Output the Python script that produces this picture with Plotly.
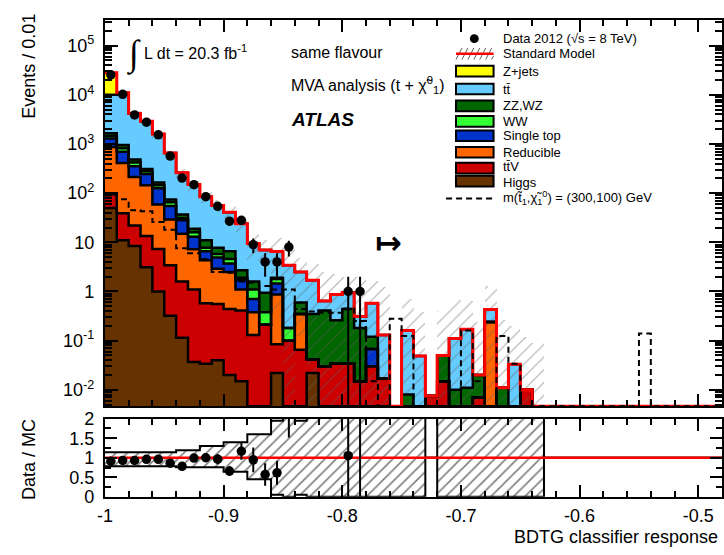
import numpy as np
import plotly.graph_objects as go

# ---------------- binning ----------------
n_bins = 52
x_min = -1.0
bin_width = 0.01
x_max = x_min + n_bins * bin_width


def pad(v):
    return np.array(list(v) + [0.0] * (n_bins - len(v)), dtype=float)


# ---------------- background components (events / bin) ----------------
higgs = pad([50, 11, 8.4, 3.1, 1.0, 0.32, 0.115, 0.037, 0.034, 0.04, 0.02, 0.015, 0, 0, 0.022, 0, 0, 0.022])
ttv = pad([45, 28, 13.6, 10.4, 6.3, 3.08, 1.485, 1.063, 0.546, 0.52, 0.42, 0.395, 0.13, 0.21, 0.063, 0.1,
           0.065, 0.02, 0.03, 0.034, 0.034, 0.015, 0.03, 0.017, 0, 0, 0, 0.0075, 0.015, 0, 0, 0.007, 0, 0, 0, 0.01])
reducible = pad([775, 371, 191, 131.5, 51.7, 25.6, 13.4, 6.1, 3.72, 2.34, 2.06, 0.69, 0.25, 0, 0.785, 0, 0.285,
                 0, 0, 0, 0, 0, 0, 0, 0, 0, 0, 0, 0, 0, 0, 0, 0.24])
single_top = pad([430, 290, 142, 100, 67, 26, 13, 5.8, 2.3, 2.0, 1.2, 0.6, 0.32, 0, 0.58, 0, 0, 0, 0, 0, 0, 0, 0.038])
ww = pad([150, 120, 65, 35, 19, 10, 3, 3, 1.2, 0.9, 0.9, 0.2, 0.4, 0.17, 0.35, 0.08])
zz_wz = pad([200, 130, 65, 30, 20, 9, 6, 3, 3.2, 2.0, 2.0, 0.8, 0.5, 0.56, 0.1, 0, 0.25, 0.308, 0.38, 0.226,
             0.406, 0.165, 0.052, 0, 0, 0.008, 0, 0, 0.035, 0.01, 0.011, 0.013, 0, 0.011])
ttbar = pad([8350, 10050, 3715, 2590, 1435, 586, 223, 131, 74, 48.2, 34.4, 21.3, 7.9, 6.06, 4.6, 3.22, 1.9, 1.35,
             0.23, 0.61, 0.51, 0.13, 0.46, 0.113, 0, 0.152, 0.049, 0, 0, 0.1, 0.159, 0, 0.19, 0, 0.033, 0, 0.001])
zjets = pad([18000])

# data 2012
data_counts = pad([25500, 10230, 3906, 2784, 1536, 568, 203, 149, 85, 54, 27, 28, 9, 4, 4, 8, 0, 0, 0, 0, 1, 1])

# signal m(stop, LSP) = (300, 100) GeV
signal = pad([90, 75, 45, 43, 26, 18, 7.6, 6, 4.6, 2.5, 2.4, 1.6, 1.5, 1.3, 1.1, 1.1, 0.44, 0.39, 0.37, 0.37,
              0.45, 0.25, 0.015, 0, 0.28, 0.125, 0, 0, 0, 0, 0.16, 0.015, 0, 0.125, 0.034,
              0, 0, 0, 0, 0, 0, 0, 0, 0, 0, 0.14])

# relative MC uncertainty band (lower / upper, as fraction of SM total)
mc_err_lo_rel = np.array([0.78] * 6 + [0.76] * 4 + [0.64] * 2 + [0.45] * 2 + [0.05, 0.0, 0.05] + [0.0] * 10 +
                         [1.0] + [0.0] * 9 + [1.0] * 15)
mc_err_hi_rel = np.array([1.14] * 6 + [1.19] * 2 + [1.30] * 2 + [1.40] * 2 + [1.60] * 2 +
                         [1.95, 2.6, 1.95, 2.2, 3.9, 2.6, 2.1, 6.5, 2.9, 9.6, 10, 4.4, 7.8, 1.0,
                          8, 6.1, 3.8, 12, 3.0, 24, 6, 12, 90] + [1.0] * 15)

# axis ticks
x_major = [-1.0, -0.9, -0.8, -0.7, -0.6, -0.5]
x_major_text = ["-1", "-0.9", "-0.8", "-0.7", "-0.6", "-0.5"]
y_major = [1e-2, 1e-1, 1, 10, 1e2, 1e3, 1e4, 1e5]
y_major_text = ["10<sup>-2</sup>", "10<sup>-1</sup>", "1", "10", "10<sup>2</sup>", "10<sup>3</sup>",
                "10<sup>4</sup>", "10<sup>5</sup>"]
r_major = [0, 0.5, 1, 1.5, 2]
r_major_text = ["0", "0.5", "1", "1.5", "2"]

# ---------------- styling ----------------
W, H = 724, 555
FONT = "Liberation Sans, Arial, Helvetica, sans-serif"
ylog_min, ylog_max = -2.333, 5.53
y_floor = 10 ** ylog_min


def px(x):
    return x / W


def py(y):
    return 1 - y / H


labels = ["Higgs", "tt\u0304V", "Reducible", "Single top", "WW", "ZZ,WZ", "tt\u0304", "Z+jets"]
colors = ["#663300", "#cc0000", "#ff6600", "#0033cc", "#33ff33", "#006600", "#66ccff", "#ffff00"]
stack = np.vstack([higgs, ttv, reducible, single_top, ww, zz_wz, ttbar, zjets])
cum = np.cumsum(stack, axis=0)
total = cum[-1]

edges = x_min + bin_width * np.arange(n_bins + 1)
centers = edges[:-1] + bin_width / 2


def step(vals, floor=None):
    v = np.array(vals, dtype=float)
    if floor is not None:
        v = np.maximum(v, floor)
    return edges, np.append(v, v[-1])


fig = go.Figure()

# stacked fills (cumulative, drawn from top level down)
for i in reversed(range(len(labels))):
    fig.add_trace(go.Bar(x=centers, y=cum[i], width=bin_width, name=labels[i],
                         marker=dict(color=colors[i], line=dict(width=0)),
                         xaxis="x", yaxis="y", hoverinfo="skip"))

# MC uncertainty hatched band
band_lo = total * mc_err_lo_rel
band_hi = total * mc_err_hi_rel
fig.add_trace(go.Bar(x=centers, y=band_hi - band_lo, base=band_lo, width=bin_width,
                     marker=dict(color="rgba(0,0,0,0)", line=dict(width=0),
                                 pattern=dict(shape="/", fgcolor="#606060", bgcolor="rgba(0,0,0,0)",
                                              size=9, solidity=0.13)),
                     xaxis="x", yaxis="y", hoverinfo="skip"))

# ratio band
fig.add_trace(go.Bar(x=centers, y=mc_err_hi_rel - mc_err_lo_rel, base=mc_err_lo_rel, width=bin_width,
                     marker=dict(color="rgba(0,0,0,0)", line=dict(width=0),
                                 pattern=dict(shape="/", fgcolor="black", bgcolor="rgba(0,0,0,0)",
                                              size=8, solidity=0.2)),
                     xaxis="x2", yaxis="y2", hoverinfo="skip"))

# black outlines of the stack levels
for i in reversed(range(len(labels) - 1)):
    sx, sy = step(cum[i], y_floor)
    fig.add_trace(go.Scatter(x=sx, y=sy, mode="lines", line=dict(color="black", width=2.5, shape="hv"),
                             xaxis="x", yaxis="y", hoverinfo="skip"))

# SM total in red
sx, sy = step(total, y_floor)
fig.add_trace(go.Scatter(x=sx, y=sy, mode="lines", line=dict(color="#ff0000", width=3, shape="hv"),
                         xaxis="x", yaxis="y", hoverinfo="skip"))

# signal
sx, sy = step(signal, y_floor)
fig.add_trace(go.Scatter(x=sx, y=sy, mode="lines",
                         line=dict(color="black", width=2, shape="hv", dash="6px,4px"),
                         xaxis="x", yaxis="y", hoverinfo="skip"))

# data
mask = data_counts > 0
fig.add_trace(go.Scatter(x=centers[mask], y=data_counts[mask], mode="markers",
                         marker=dict(color="black", size=9.5),
                         error_y=dict(type="data", array=np.sqrt(data_counts[mask]), color="black",
                                      thickness=2, width=0),
                         xaxis="x", yaxis="y", hoverinfo="skip"))

# ratio band outline
for rel in (mc_err_hi_rel, mc_err_lo_rel):
    sx, sy = step(rel)
    fig.add_trace(go.Scatter(x=sx, y=sy, mode="lines", line=dict(color="black", width=2, shape="hv"),
                             xaxis="x2", yaxis="y2", hoverinfo="skip"))

# ratio reference line
fig.add_trace(go.Scatter(x=[x_min, x_max], y=[1, 1], mode="lines", line=dict(color="#ff0000", width=2.5),
                         xaxis="x2", yaxis="y2", hoverinfo="skip"))

# ratio points
rmask = mask & (total > 0)
ratio = data_counts[rmask] / total[rmask]
ratio_err = np.sqrt(data_counts[rmask]) / total[rmask]
fig.add_trace(go.Scatter(x=centers[rmask], y=ratio, mode="markers",
                         marker=dict(color="black", size=9.5),
                         error_y=dict(type="data", array=ratio_err, color="black", thickness=2, width=0),
                         xaxis="x2", yaxis="y2", hoverinfo="skip"))

# ---------------- axes ----------------
x_minor = [v for v in np.round(np.arange(x_min, x_max + 1e-9, 0.02), 3) if min(abs(v - m) for m in x_major) > 1e-6]
y_minor = [k * 10.0 ** e for e in range(-3, 6) for k in range(2, 10)]
x_dom = [px(98), px(722)]

common_x = dict(range=[x_min, x_max], domain=x_dom, showline=True, linecolor="black", linewidth=2,
                mirror="allticks", ticks="inside", ticklen=12, tickwidth=1.5, tickcolor="black",
                tickvals=x_major, showgrid=False, zeroline=False,
                minor=dict(ticks="inside", ticklen=6, tickwidth=1.5, tickcolor="black", tickvals=x_minor,
                           showgrid=False))

fig.update_layout(
    width=W, height=H, margin=dict(l=0, r=0, t=0, b=0),
    paper_bgcolor="white", plot_bgcolor="white",
    barmode="overlay", bargap=0, showlegend=False,
    font=dict(family=FONT, color="black"),
    xaxis=dict(anchor="y", showticklabels=False, **common_x),
    xaxis2=dict(anchor="y2", showticklabels=True, ticktext=x_major_text,
                tickfont=dict(size=18, family=FONT), ticklabelstandoff=2, **common_x),
    yaxis=dict(type="log", range=[ylog_min, ylog_max], domain=[py(411), py(10)], anchor="x",
               showline=True, linecolor="black", linewidth=2, mirror="allticks",
               ticks="inside", ticklen=13, tickwidth=1.5, tickcolor="black",
               tickvals=y_major, ticktext=y_major_text, tickfont=dict(size=18, family=FONT),
               ticklabelstandoff=5, showgrid=False, zeroline=False,
               minor=dict(ticks="inside", ticklen=7, tickwidth=1.5, tickcolor="black", tickvals=y_minor,
                          showgrid=False)),
    yaxis2=dict(range=[0, 2], domain=[py(505), py(424)], anchor="x2",
                showline=True, linecolor="black", linewidth=2, mirror="allticks",
                ticks="inside", ticklen=12, tickwidth=1.5, tickcolor="black",
                tickvals=r_major, ticktext=r_major_text, tickfont=dict(size=18, family=FONT),
                ticklabelstandoff=5, showgrid=False, zeroline=False,
                minor=dict(ticks="inside", ticklen=6, tickwidth=1.5, tickcolor="black",
                           tickvals=[0.25, 0.75, 1.25, 1.75], showgrid=False)),
)

# ---------------- texts ----------------
ann = []


def text(x, y, s, size=16, xanchor="left", family=FONT, angle=0, yanchor="middle"):
    ann.append(dict(x=px(x), y=py(y), xref="paper", yref="paper", text=s, showarrow=False,
                    xanchor=xanchor, yanchor=yanchor, textangle=angle,
                    font=dict(size=size, family=family, color="black")))


text(21, 58, "Events / 0.01", size=18, xanchor="center", angle=-90)
text(21, 466, "Data / MC", size=18, xanchor="center", angle=-90)
text(720, 547, "BDTG classifier response", size=18, xanchor="right")
text(127, 46, "<i>\u222b</i>", size=36, xanchor="center", family="Liberation Serif, serif")
text(135, 44, "L dt = 20.3 fb<sup>-1</sup>", size=16)
text(284, 44, "same flavour", size=16)
text(284, 78, "MVA analysis (t + \u03c7\u0303<sup>0</sup><sub>1</sub>)", size=16)
text(284, 114, "<b><i>ATLAS</i></b>", size=19)
text(385, 242, "<b>\u21a6</b>", size=32, xanchor="center", family="DejaVu Sans, sans-serif")

# ---------------- manual legend ----------------
shapes = []
leg_rows = [29.7, 45.5, 63.4, 82, 99.5, 115.5, 130.5, 147.5, 162.5, 179, 195.5]
leg_text = ["Data 2012 (\u221as = 8 TeV)", "Standard Model", "Z+jets", "tt\u0304", "ZZ,WZ", "WW",
            "Single top", "Reducible", "tt\u0304V", "Higgs",
            "m(t\u0303<sub>1</sub>,\u03c7\u0303<sub>1</sub><sup>0</sup>) = (300,100) GeV"]
box_x0, box_x1 = 453, 491
for yy, s in zip(leg_rows, leg_text):
    text(499, yy, s, size=13)

# data marker
shapes.append(dict(type="circle", xref="paper", yref="paper", x0=px(467), x1=px(476),
                   y0=py(leg_rows[0] + 4.5), y1=py(leg_rows[0] - 4.5), fillcolor="black", line=dict(width=0)))
# SM: hatch + red line
for k in range(7):
    xa = box_x0 + 6 * k
    shapes.append(dict(type="line", xref="paper", yref="paper", x0=px(xa), y0=py(leg_rows[1] + 6),
                       x1=px(min(xa + 6, box_x1)), y1=py(leg_rows[1] - 6 + max(0, xa + 6 - box_x1) * 2),
                       line=dict(color="#606060", width=1)))
shapes.append(dict(type="line", xref="paper", yref="paper", x0=px(box_x0), x1=px(box_x1),
                   y0=py(leg_rows[1]), y1=py(leg_rows[1]), line=dict(color="#ff0000", width=2.5)))
# filled boxes (top of legend = top of stack)
box_rows = [63.4, 82, 99.5, 115.5, 130.5, 147.5, 164, 177.5]
for j, ci in enumerate(reversed(range(len(colors)))):
    yy = box_rows[j]
    shapes.append(dict(type="rect", xref="paper", yref="paper", x0=px(box_x0), x1=px(box_x1),
                       y0=py(yy + 5.5), y1=py(yy - 5.5), fillcolor=colors[ci],
                       line=dict(color="black", width=2)))
# signal dashed
shapes.append(dict(type="line", xref="paper", yref="paper", x0=px(443), x1=px(491),
                   y0=py(leg_rows[-1]), y1=py(leg_rows[-1]), line=dict(color="black", width=2, dash="6px,4px")))

fig.update_layout(annotations=ann, shapes=shapes)
fig.write_html("out.html")
